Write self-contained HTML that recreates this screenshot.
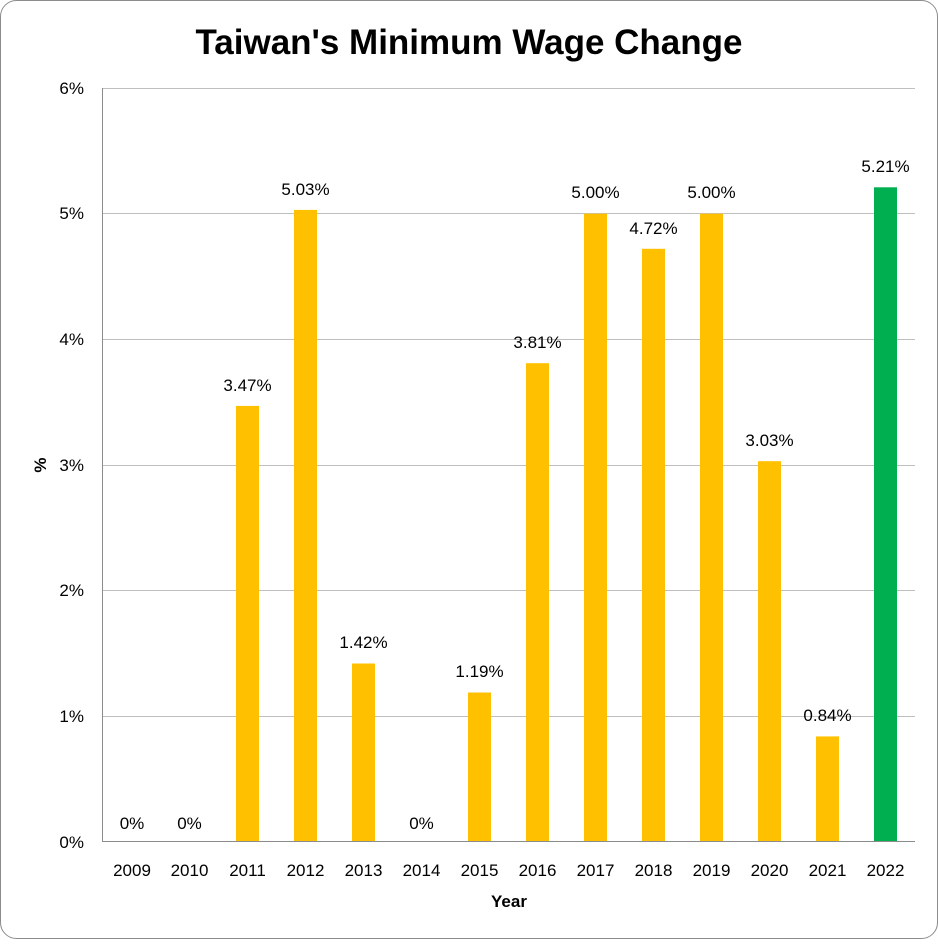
<!DOCTYPE html>
<html><head><meta charset="utf-8"><style>
html,body{margin:0;padding:0;background:#fff;}
svg text{font-family:"Liberation Sans",sans-serif;fill:#000;}
</style></head><body>
<svg width="938" height="939" viewBox="0 0 938 939" xmlns="http://www.w3.org/2000/svg">
<rect x="0.5" y="0.5" width="937" height="938" rx="16" fill="#fff" stroke="#8c8c8c" stroke-width="1"/>
<text x="469" y="54" text-anchor="middle" font-size="35" font-weight="bold">Taiwan's Minimum Wage Change</text>
<g stroke="#bfbfbf" stroke-width="1">
<line x1="102.5" y1="88.5" x2="915" y2="88.5"/>
<line x1="102.5" y1="213.5" x2="915" y2="213.5"/>
<line x1="102.5" y1="339.5" x2="915" y2="339.5"/>
<line x1="102.5" y1="465.5" x2="915" y2="465.5"/>
<line x1="102.5" y1="590.5" x2="915" y2="590.5"/>
<line x1="102.5" y1="716.5" x2="915" y2="716.5"/>
</g>
<g font-size="17" text-anchor="end">
<text x="84" y="848">0%</text>
<text x="84" y="722">1%</text>
<text x="84" y="596">2%</text>
<text x="84" y="471">3%</text>
<text x="84" y="345">4%</text>
<text x="84" y="219">5%</text>
<text x="84" y="94">6%</text>
</g>
<text transform="translate(46,465) rotate(-90)" text-anchor="middle" font-size="17" font-weight="bold">%</text>
<g fill="#ffc000">
<rect x="236" y="405.9" width="23" height="436"/>
<rect x="294" y="209.9" width="23" height="632"/>
<rect x="352" y="663.5" width="23" height="178.5"/>
<rect x="468" y="692.5" width="23" height="149.5"/>
<rect x="526" y="363.2" width="23" height="478.8"/>
<rect x="584" y="213.7" width="23" height="628.3"/>
<rect x="642" y="248.8" width="23" height="593.2"/>
<rect x="700" y="213.7" width="23" height="628.3"/>
<rect x="758" y="461.2" width="23" height="380.8"/>
<rect x="816" y="736.4" width="23" height="105.6"/>
</g>
<rect x="874" y="187.3" width="23" height="654.7" fill="#00b050"/>
<g stroke="#8c8c8c" stroke-width="1">
<line x1="102.5" y1="88" x2="102.5" y2="842"/>
<line x1="102" y1="841.5" x2="915" y2="841.5"/>
</g>
<g font-size="17" text-anchor="middle">
<text x="132" y="829">0%</text>
<text x="189.5" y="829">0%</text>
<text x="247.5" y="391">3.47%</text>
<text x="305.5" y="195">5.03%</text>
<text x="363.5" y="648">1.42%</text>
<text x="421.5" y="829">0%</text>
<text x="479.5" y="677">1.19%</text>
<text x="537.5" y="348">3.81%</text>
<text x="595.5" y="198">5.00%</text>
<text x="653.5" y="234">4.72%</text>
<text x="711.5" y="198">5.00%</text>
<text x="769.5" y="446">3.03%</text>
<text x="827.5" y="721">0.84%</text>
<text x="885.5" y="172">5.21%</text>
</g>
<g font-size="17" text-anchor="middle">
<text x="132" y="876">2009</text>
<text x="189.5" y="876">2010</text>
<text x="247.5" y="876">2011</text>
<text x="305.5" y="876">2012</text>
<text x="363.5" y="876">2013</text>
<text x="421.5" y="876">2014</text>
<text x="479.5" y="876">2015</text>
<text x="537.5" y="876">2016</text>
<text x="595.5" y="876">2017</text>
<text x="653.5" y="876">2018</text>
<text x="711.5" y="876">2019</text>
<text x="769.5" y="876">2020</text>
<text x="827.5" y="876">2021</text>
<text x="885.5" y="876">2022</text>
</g>
<text x="509" y="907" text-anchor="middle" font-size="17" font-weight="bold">Year</text>
</svg>
</body></html>
